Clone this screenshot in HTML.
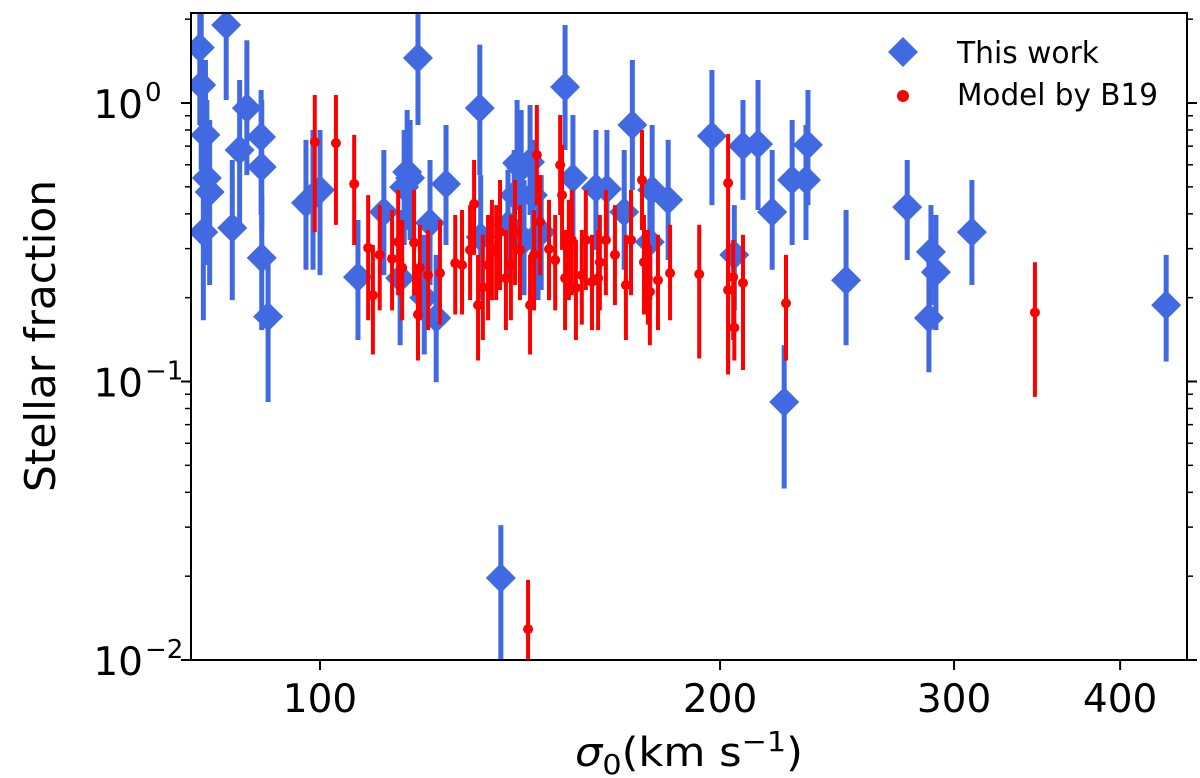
<!DOCTYPE html>
<html><head><meta charset="utf-8"><style>
html,body{margin:0;padding:0;background:#fff;}
svg{display:block;font-family:"DejaVu Sans","Liberation Sans",sans-serif;}
</style></head><body>
<svg id="chart" width="1200" height="778" viewBox="0 0 1200 778" xmlns="http://www.w3.org/2000/svg">
<defs><clipPath id="clip"><rect x="191" y="13" width="996" height="647"/></clipPath></defs>
<g id="marks" clip-path="url(#clip)"></g>
<g id="axes"></g>
<text transform="translate(55,336) rotate(-90)" text-anchor="middle" font-size="42" textLength="312" lengthAdjust="spacingAndGlyphs">Stellar fraction</text>
<text x="575" y="766" font-size="40" textLength="228" lengthAdjust="spacingAndGlyphs"><tspan font-style="italic">σ</tspan><tspan font-size="28" dy="8">0</tspan><tspan dy="-8">(km s</tspan><tspan font-size="28" dy="-15">−1</tspan><tspan dy="15">)</tspan></text>
<g font-size="30">
<polygon points="903,37 918,52 903,67 888,52" fill="#4169E1"/>
<text x="957" y="63" textLength="142" lengthAdjust="spacingAndGlyphs">This work</text>
<circle cx="903" cy="96" r="6" fill="#FF0000"/>
<text x="957" y="105" textLength="201" lengthAdjust="spacingAndGlyphs">Model by B19</text>
</g>
</svg>
<script>
const blueSigma=[81.2,81.4,82.0,82.2,81.7,82.6,85.0,85.9,87.0,88.1,90.3,90.4,90.4,91.4,97.6,98.8,100,106.8,111.7,114.9,115.7,116.3,116.9,118.5,119.8,121.0,122.3,124.4,131.9,132.1,136.8,138.5,140.0,140.7,141.7,142.4,143.9,144.6,145.9,146.7,152.9,155.0,161.3,164.4,169.4,171.8,177.1,177.8,182.8,197.2,205.0,208.1,213.6,218.9,223.5,226.6,232.1,232.9,248.8,276.6,287.2,288.2,290.7,309.4,433.2];
const blueFrac=[1.58,1.16,0.768,0.538,0.344,0.479,1.906,0.356,0.678,0.959,0.755,0.589,0.278,0.171,0.438,0.463,0.487,0.237,0.406,0.235,0.499,0.565,0.538,1.451,0.200,0.371,0.169,0.512,0.959,0.330,0.0197,0.365,0.467,0.609,0.584,0.322,0.614,0.467,0.336,0.344,1.141,0.538,0.495,0.491,0.406,0.834,0.317,0.487,0.449,0.761,0.285,0.701,0.712,0.406,0.0844,0.529,0.529,0.707,0.231,0.423,0.169,0.292,0.247,0.344,0.188];
const blueHi=[2.5,2.5,1.427,1.025,0.678,0.869,2.5,0.624,1.209,1.68,1.113,1.025,0.467,0.285,0.737,0.800,0.800,0.380,0.678,0.413,0.800,0.944,0.869,2.5,0.336,0.624,0.285,0.834,1.62,0.551,0.0305,0.575,0.678,1.025,0.944,0.529,0.984,0.737,0.551,0.551,1.906,0.906,0.800,0.800,0.678,1.427,0.529,0.834,0.737,1.314,0.430,1.025,1.209,0.678,0.135,0.869,0.834,1.113,0.413,0.624,0.285,0.430,0.396,0.529,0.285];
const blueLo=[0.834,0.575,0.344,0.262,0.166,0.222,1.025,0.196,0.365,0.551,0.396,0.350,0.153,0.0844,0.252,0.252,0.241,0.141,0.241,0.135,0.309,0.350,0.322,0.834,0.125,0.222,0.0995,0.309,0.551,0.196,0.005,0.241,0.297,0.413,0.365,0.204,0.396,0.285,0.196,0.213,0.678,0.322,0.297,0.322,0.252,0.487,0.196,0.297,0.273,0.430,0.180,0.449,0.413,0.252,0.0413,0.309,0.322,0.430,0.135,0.273,0.108,0.188,0.153,0.222,0.118];
const redSigma=[99.1,102.8,106.1,108.7,109.6,110.9,113.3,114.5,115.3,117.7,118.5,118.9,120.6,123.1,126.4,127.9,129.7,130.6,131.5,132.6,133.8,134.7,135.7,136.6,138.0,139.2,140.2,141.4,143.4,143.9,144.9,145.6,146.4,148.7,150.3,151.6,152.1,152.9,153.9,154.7,155.8,157.4,158.5,160.2,161.9,162.4,164.1,166.7,169.9,171.4,174.7,175.3,176.5,177.1,179.6,183.4,192.9,202.8,204.6,202.8,208.1,205.0,224.2,345.1];
const redFrac=[0.724,0.718,0.512,0.302,0.204,0.285,0.276,0.317,0.256,0.315,0.174,0.256,0.241,0.245,0.266,0.262,0.297,0.434,0.188,0.218,0.262,0.302,0.292,0.344,0.235,0.262,0.344,0.297,0.0129,0.188,0.285,0.651,0.374,0.299,0.273,0.599,0.467,0.235,0.297,0.322,0.217,0.241,0.322,0.228,0.235,0.268,0.322,0.285,0.222,0.322,0.529,0.268,0.235,0.210,0.231,0.245,0.243,0.516,0.237,0.213,0.226,0.156,0.191,0.177];
const redHi=[1.068,1.068,0.768,0.467,0.309,0.430,0.413,0.487,0.380,0.487,0.262,0.365,0.350,0.380,0.396,0.413,0.430,0.624,0.285,0.336,0.396,0.449,0.430,0.529,0.350,0.396,0.529,0.430,0.0194,0.285,0.413,0.984,0.551,0.449,0.396,0.906,0.707,0.350,0.449,0.487,0.322,0.350,0.487,0.336,0.350,0.396,0.487,0.430,0.336,0.487,0.800,0.396,0.350,0.309,0.336,0.365,0.365,0.774,0.322,0.322,0.336,0.231,0.285,0.268];
const redLo=[0.344,0.365,0.309,0.166,0.125,0.180,0.180,0.204,0.166,0.204,0.119,0.166,0.153,0.160,0.174,0.174,0.196,0.285,0.119,0.141,0.166,0.196,0.196,0.213,0.153,0.166,0.222,0.196,0.0085,0.125,0.180,0.430,0.241,0.196,0.180,0.396,0.297,0.153,0.196,0.204,0.141,0.160,0.213,0.153,0.153,0.180,0.204,0.188,0.141,0.204,0.350,0.174,0.160,0.135,0.153,0.166,0.121,0.106,0.141,0.110,0.110,0.119,0.119,0.0881];
const xTicks=[100,200,300,400];
const yTicks=[0.01,0.1,1];
const yTickLabels=["−2","−1","0"];

const NS="http://www.w3.org/2000/svg";
const L=191,R=1187,T=13,B=660;
function xs(v){return 320+1329*Math.log10(v/100);}
function ys(v){return 103-278.5*Math.log10(v);}
function mk(tag,attrs,parent){const e=document.createElementNS(NS,tag);for(const k in attrs)e.setAttribute(k,attrs[k]);parent.appendChild(e);return e;}
const marks=document.getElementById('marks');
const axes=document.getElementById('axes');

blueSigma.forEach((s,i)=>{
  const x=xs(s);
  const bar=mk('line',{x1:x,x2:x,y1:ys(blueHi[i]),y2:ys(blueLo[i]),stroke:'#4169E1','stroke-width':5},marks);
  
  
});
blueSigma.forEach((s,i)=>{
  const x=xs(s),y=ys(blueFrac[i]),h=15;
  const d=mk('polygon',{points:`${x},${y-h} ${x+h},${y} ${x},${y+h} ${x-h},${y}`,fill:'#4169E1'},marks);
  
  
});
redSigma.forEach((s,i)=>{
  const x=xs(s);
  const bar=mk('line',{x1:x,x2:x,y1:ys(redHi[i]),y2:ys(redLo[i]),stroke:'#FF0000','stroke-width':4},marks);
  
  
  const c=mk('circle',{cx:x,cy:ys(redFrac[i]),r:5,fill:'#FF0000'},marks);
  
  
});

const fr=mk('rect',{x:L,y:T,width:R-L,height:B-T,fill:'none',stroke:'#000','stroke-width':2},axes);


xTicks.forEach(v=>{
  const x=xs(v);
  const t=mk('line',{x1:x,x2:x,y1:B,y2:B+10,stroke:'#000','stroke-width':2},axes);
  
  
  const lb=mk('text',{x:x,y:712,'text-anchor':'middle','font-size':39,fill:'#000'},axes);
  lb.textContent=v;
  
  
});
yTicks.forEach((v,i)=>{
  const y=ys(v);
  [[L,L-10],[R,R+10]].forEach(p=>{
    const t=mk('line',{x1:p[0],x2:p[1],y1:y,y2:y,stroke:'#000','stroke-width':2},axes);
    
    
  });
  const lb=mk('text',{x:143,y:y+15,'text-anchor':'end','font-size':39,fill:'#000'},axes);
  lb.textContent='10';
  
  
  const sp=mk('text',{x:145,y:y-2,'text-anchor':'start','font-size':26,fill:'#000'},axes);
  sp.textContent=yTickLabels[i];
  
  
  for(let m=2;m<=9;m++){
    const yy=ys(v*m);
    if(yy<T)continue;
    [[L,L-6],[R,R+6]].forEach(p=>{
      const t=mk('line',{x1:p[0],x2:p[1],y1:yy,y2:yy,stroke:'#000','stroke-width':1.5},axes);
      
      
    });
  }
});
</script>
</body></html>
